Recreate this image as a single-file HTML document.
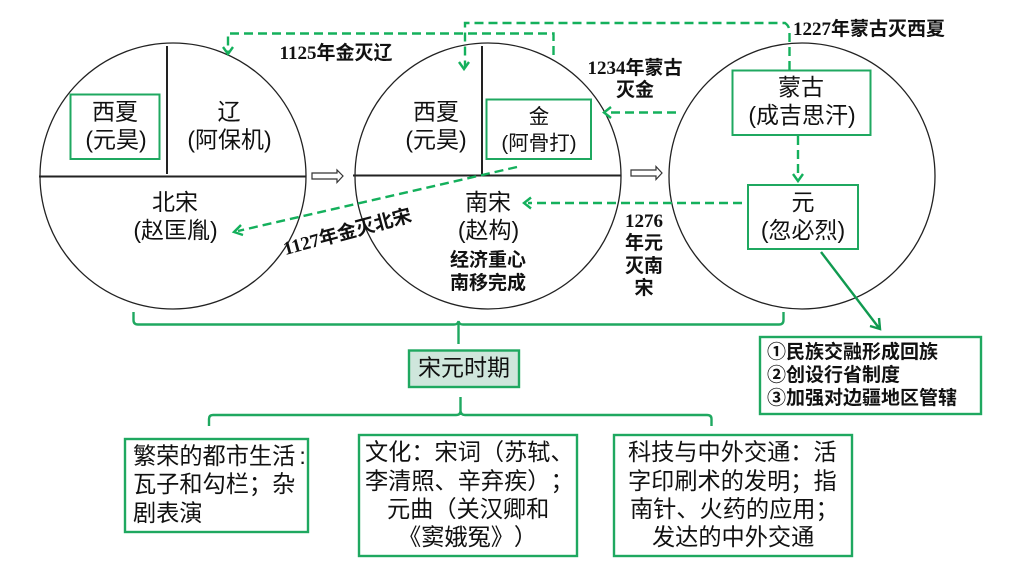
<!DOCTYPE html>
<html lang="zh">
<head>
<meta charset="utf-8">
<title>宋元时期</title>
<style>
html,body{margin:0;padding:0;background:#fff;width:1024px;height:576px;overflow:hidden}
svg{display:block}
text{font-family:"Liberation Sans","Noto Sans CJK SC",sans-serif;fill:#111;text-spacing-trim:space-all;font-feature-settings:"chws" 0}
.m{font-size:23px;text-anchor:middle}
.j{font-size:20.5px;text-anchor:middle}
.l{font-size:23.2px}
.b{font-size:19px;font-weight:700;font-family:"Liberation Serif","Noto Sans CJK SC",serif;text-anchor:middle}
.s{font-size:19px;font-weight:700;font-family:"Noto Sans CJK SC",sans-serif}
.c{fill:#fff;stroke:#222;stroke-width:1.3}
.k{stroke:#222;stroke-width:2;fill:none}
.g{fill:none;stroke:#1fa860;stroke-width:2}
.gb{fill:none;stroke:#1fa860;stroke-width:2.4}
.d{fill:none;stroke:#14b05c;stroke-width:2.4;stroke-dasharray:9 5}
.a{fill:none;stroke:#14b05c;stroke-width:2.4}
.h{fill:#fff;stroke:#333;stroke-width:1.2}
</style>
</head>
<body>
<svg width="1024" height="576" viewBox="0 0 1024 576" xmlns="http://www.w3.org/2000/svg">
<!-- circles -->
<circle class="c" cx="173" cy="176" r="133"/>
<circle class="c" cx="488" cy="176" r="133"/>
<circle class="c" cx="802" cy="176" r="133"/>
<path class="k" d="M39 176.5H306M167 46V174"/>
<path class="k" d="M353 175.5H621M482 46V174"/>

<!-- boxes -->
<rect class="g" x="70.500" y="94.500" width="89" height="64.500"/>
<rect class="g" x="486.500" y="99.500" width="104.500" height="59.500"/>
<rect class="g" x="732.500" y="70.500" width="138" height="64.500"/>
<rect class="g" x="748" y="185" width="110" height="64"/>

<!-- hollow arrows -->
<path class="h" d="M312 173H337V170L343 176L337 182.500V179H312Z"/>
<path class="h" d="M631 170H656V166.500L662 173L656 179.500V176H631Z"/>

<!-- dashed connectors -->
<path class="d" d="M553.500 55V33.500H228V52"/>
<path class="a" d="M223 47L228 54L233 47"/>
<path class="d" d="M789.500 70V32Q789.500 26 785 23H465V68"/>
<path class="a" d="M459 62L464 69L469 62"/>
<path class="d" d="M676 112.500H608"/>
<path class="a" d="M611 107L604 112.500L611 118"/>
<path class="d" d="M517 167L238 231"/>
<path class="a" d="M241 225L234 232L243 235"/>
<path class="d" d="M742 203H528"/>
<path class="a" d="M531 197.500L524 203L531 208.500"/>
<path class="d" d="M798 136V177"/>
<path class="a" d="M793 174L798 181L803 174"/>

<!-- solid arrow -->
<path fill="none" stroke="#109a50" stroke-width="2.400" d="M821 252L879 328"/>
<path fill="none" stroke="#109a50" stroke-width="2.400" d="M879 318L880 329L870 326"/>

<!-- braces -->
<path class="gb" d="M133.500 312V320Q133.500 324.500 138 324.500H454Q458 324.500 458.500 321Q459 324.500 463 324.500H779Q783.500 324.500 783.500 320V312M458.500 324V344"/>
<path class="gb" d="M209 426V419Q209 415 213 415H456Q460.500 415 460.500 411Q461 415 465 415H707Q711.500 415 711.500 419V426M460.500 397V415"/>

<!-- center box -->
<rect x="409" y="350.500" width="110" height="36.500" fill="#cfe6dc" stroke="#1fa860" stroke-width="2.400"/>
<text x="464" y="375.500" font-size="23" text-anchor="middle">宋元时期</text>

<!-- bottom boxes -->
<rect class="gb" x="125" y="439" width="183" height="93"/>
<rect class="gb" x="359" y="435" width="218" height="121"/>
<rect class="gb" x="614" y="435" width="238" height="121"/>
<rect class="gb" x="760" y="337" width="221" height="77"/>

<!-- circle labels -->
<text class="m" x="115" y="119.500">西夏</text>
<text class="m" x="116" y="147.500">(元昊)</text>
<text class="m" x="229" y="119.500">辽</text>
<text class="m" x="229.500" y="147.500">(阿保机)</text>
<text class="m" x="175" y="210">北宋</text>
<text class="m" x="175.500" y="238">(赵匡胤)</text>
<text class="m" x="436" y="119.500">西夏</text>
<text class="m" x="436" y="147.500">(元昊)</text>
<text class="j" x="539" y="123.500">金</text>
<text class="j" x="539" y="150">(阿骨打)</text>
<text class="m" x="488" y="210">南宋</text>
<text class="m" x="488.500" y="238">(赵构)</text>
<text class="m" x="801" y="95">蒙古</text>
<text class="m" x="802" y="123">(成吉思汗)</text>
<text class="m" x="803" y="210">元</text>
<text class="m" x="803" y="238">(忽必烈)</text>

<!-- bold labels -->
<text class="s" x="488" y="266" text-anchor="middle">经济重心</text>
<text class="s" x="488" y="289" text-anchor="middle">南移完成</text>
<text class="b" x="336" y="59">1125年金灭辽</text>
<text class="b" x="869" y="35">1227年蒙古灭西夏</text>
<text class="b" x="635" y="74">1234年蒙古</text>
<text class="b" x="635" y="96">灭金</text>
<text class="b" x="644" y="227">1276</text>
<text class="b" x="644" y="249">年元</text>
<text class="b" x="644" y="272">灭南</text>
<text class="b" x="644" y="294">宋</text>
<text class="b" transform="translate(349 238) rotate(-15)" x="0" y="0">1127年金灭北宋</text>

<!-- solutions -->
<text class="s" x="767" y="358">①民族交融形成回族</text>
<text class="s" x="767" y="381">②创设行省制度</text>
<text class="s" x="767" y="404">③加强对边疆地区管辖</text>

<!-- bottom text -->
<text class="l" x="133" y="464">繁荣的都市生活<tspan dx="4">:</tspan></text>
<text class="l" x="133" y="492">瓦子和勾栏；杂</text>
<text class="l" x="133" y="521">剧表演</text>

<text class="l" x="365" y="460">文化：宋词（苏轼、</text>
<text class="l" x="365" y="489">李清照、辛弃疾）；</text>
<text class="l" x="387" y="517">元曲（关汉卿和</text>
<text class="l" x="398" y="545">《窦娥冤》）</text>

<text class="l" x="628" y="460">科技与中外交通：活</text>
<text class="l" x="628" y="489">字印刷术的发明；指</text>
<text class="l" x="630" y="517">南针、火药的应用；</text>
<text class="l" x="652" y="545">发达的中外交通</text>
</svg>
</body>
</html>
